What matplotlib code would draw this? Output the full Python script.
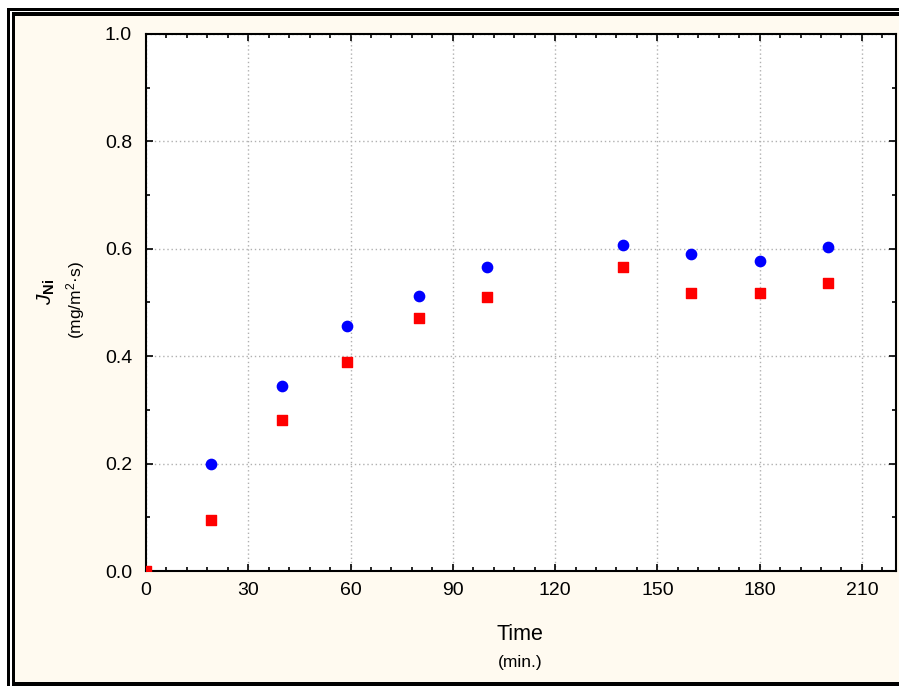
import matplotlib.pyplot as plt
from matplotlib.patches import Rectangle
from matplotlib.ticker import MultipleLocator

plt.rcParams['font.family'] = ['Liberation Sans', 'DejaVu Sans']
plt.rcParams['mathtext.fontset'] = 'custom'
plt.rcParams['mathtext.rm'] = 'Liberation Sans'
plt.rcParams['mathtext.it'] = 'Liberation Sans:italic'
plt.rcParams['mathtext.bf'] = 'Liberation Sans:bold'

# data
time_blue = [19, 40, 59, 80, 100, 140, 160, 180, 200]
j_blue = [0.199, 0.345, 0.456, 0.512, 0.566, 0.607, 0.590, 0.577, 0.603]

time_red = [0, 19, 40, 59, 80, 100, 140, 160, 180, 200]
j_red = [0.0, 0.095, 0.281, 0.389, 0.471, 0.510, 0.566, 0.518, 0.518, 0.536]

W, H = 899, 686
fig = plt.figure(figsize=(W / 100, H / 100), dpi=100)
fig.patch.set_facecolor('white')

# double frame + cream background (pixel coords -> figure fractions)
def rect(x0, y0, x1, y1, **kw):
    r = Rectangle((x0 / W, 1 - y1 / H), (x1 - x0) / W, (y1 - y0) / H,
                  transform=fig.transFigure, **kw)
    fig.add_artist(r)

rect(7, 8, W + 20, H + 20, facecolor='black', edgecolor='none', zorder=0)
rect(10, 11, W + 20, H + 20, facecolor='white', edgecolor='none', zorder=0)
rect(12, 12, W + 20, 686, facecolor='black', edgecolor='none', zorder=0)
rect(15, 16, W + 20, 682, facecolor='#fffaf0', edgecolor='none', zorder=0)

ax = fig.add_axes([146 / W, (H - 571) / H, (896 - 146) / W, (571 - 34) / H])
ax.set_facecolor('white')

ax.scatter(time_red, j_red, marker='s', s=60, color='#ff0000', zorder=3)
ax.scatter(time_blue, j_blue, marker='o', s=55, color='#0000ff', zorder=3)

ax.set_xlim(0, 220)
ax.set_ylim(0, 1.0)
ax.xaxis.set_major_locator(MultipleLocator(30))
ax.xaxis.set_minor_locator(MultipleLocator(6))
ax.yaxis.set_major_locator(MultipleLocator(0.2))
ax.yaxis.set_minor_locator(MultipleLocator(0.1))
ax.xaxis.set_major_formatter(plt.FuncFormatter(lambda v, p: '%d' % v))
ax.yaxis.set_major_formatter(plt.FuncFormatter(lambda v, p: '%.1f' % v))

ax.tick_params(which='both', direction='in', top=True, right=True,
               labelsize=14, colors='black')
ax.tick_params(axis='y', pad=10)
ax.tick_params(axis='x', pad=8)
ax.tick_params(which='major', length=5, width=1.2)
ax.tick_params(which='minor', length=3, width=1.2)
for s in ax.spines.values():
    s.set_linewidth(1.5)

ax.grid(True, which='major', color='#b0b0b0', linestyle=(0, (1, 2)), linewidth=1)
ax.set_axisbelow(True)

fig.text(520 / W, 1 - 635 / H, 'Time', ha='center', va='center', fontsize=15.5)
fig.text(520 / W, 1 - 663 / H, '(min.)', ha='center', va='center', fontsize=12.5)

fig.text(46 / W, 1 - 292 / H, r'$J_{\mathbf{Ni}}$', rotation=90,
         ha='center', va='center', fontsize=15)
fig.text(76 / W, 1 - 300 / H, '(mg/m$^2$·s)', rotation=90,
         ha='center', va='center', fontsize=12.5)

fig.savefig('out.png', dpi=100)
